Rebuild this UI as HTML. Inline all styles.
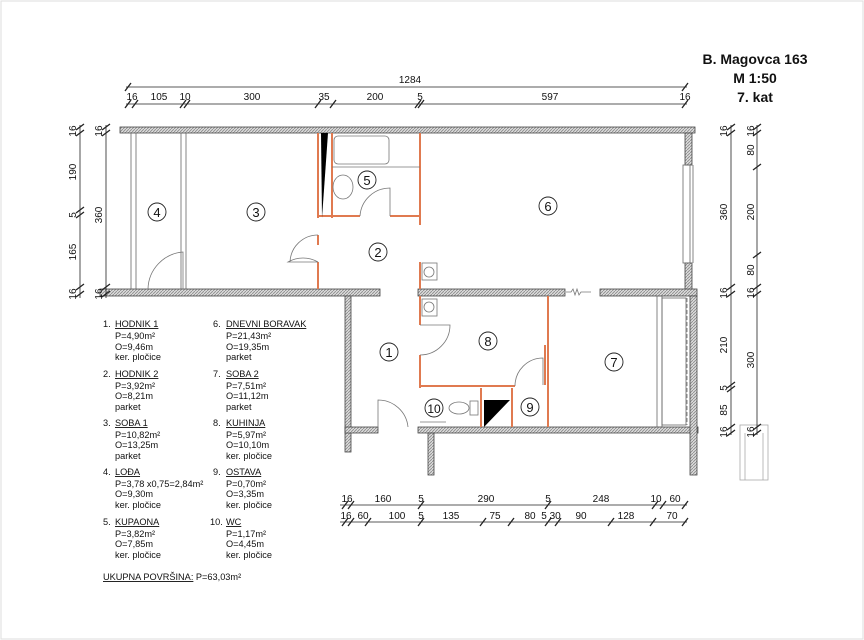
<!DOCTYPE html>
<html><head><meta charset="utf-8"><style>
html,body{margin:0;padding:0;background:#fff}
svg{display:block}
text{font-family:"Liberation Sans",sans-serif;fill:#111}
</style></head><body>
<svg width="864" height="640" viewBox="0 0 864 640" xmlns="http://www.w3.org/2000/svg">
<defs>
<pattern id="h" width="3" height="3" patternUnits="userSpaceOnUse"><rect width="3" height="3" fill="#dcdcdc"/><path d="M0 3L3 0" stroke="#888" stroke-width="0.8"/></pattern>
</defs>
<rect x="1" y="1" width="862" height="638" fill="none" stroke="#ddd"/>
<g font-weight="bold" font-size="14" text-anchor="middle">
<text x="755" y="64">B. Magovca 163</text>
<text x="755" y="83">M 1:50</text>
<text x="755" y="102">7. kat</text>
</g>
<g fill="url(#h)" stroke="#444" stroke-width="0.8">
<rect x="120" y="127" width="575" height="6"/>
<rect x="685" y="133" width="7" height="32"/>
<rect x="685" y="263" width="7" height="30"/>
<rect x="100" y="289" width="280" height="7"/>
<rect x="418" y="289" width="147" height="7"/>
<rect x="600" y="289" width="97" height="7"/>
<rect x="345" y="296" width="6" height="156"/>
<rect x="345" y="427" width="33" height="6"/>
<rect x="418" y="427" width="280" height="6"/>
<rect x="428" y="433" width="6" height="42"/>
<rect x="690" y="296" width="7" height="179"/>
</g>
<g fill="none" stroke="#666" stroke-width="0.8">
<rect x="131" y="133" width="5" height="156"/>
<rect x="181" y="133" width="5" height="156"/>
<rect x="683" y="165" width="7" height="98"/>
<line x1="693" y1="165" x2="693" y2="263"/>
<rect x="657" y="296" width="5" height="131"/>
<rect x="662" y="298" width="24" height="127"/>
<line x1="687" y1="298" x2="687" y2="425" stroke-dasharray="4 2"/>
<rect x="740" y="425" width="28" height="55" stroke="#aaa"/>
<line x1="745" y1="433" x2="745" y2="480" stroke="#aaa"/>
<line x1="763" y1="433" x2="763" y2="480" stroke="#aaa"/>
</g>
<g fill="none" stroke="#e07a50" stroke-width="2">
<path d="M318 133V218M332 133V218M420 133V225M318 216H360M390 216H420M318 235V245M318 262V289M420 262V289"/>
<path d="M420 296V325M420 355V388M420 386H515M548 296V427M481 388V427M512 388V427M545 345V385"/>
</g>
<g fill="none" stroke="#777" stroke-width="0.8">
<rect x="334" y="136" width="55" height="28" rx="4"/>
<path d="M332 167H420"/>
<ellipse cx="343" cy="187" rx="10" ry="12"/>
<rect x="422" y="263" width="15" height="17"/><circle cx="429" cy="272" r="5"/>
<rect x="422" y="299" width="15" height="17"/><circle cx="429" cy="307" r="5"/>
<path d="M360 216A30 30 0 0 1 390 188V216"/>
<path d="M318 262A30 30 0 0 0 288 262H318M318 235A28 28 0 0 0 290 262"/>
<path d="M420 325H450A30 30 0 0 1 420 355"/>
<path d="M515 386A28 28 0 0 1 543 358V385"/>
<path d="M378 427V400A30 30 0 0 1 408 427"/>
<path d="M148 289A38 38 0 0 1 183 252V289"/>
<path d="M420 422H446"/>
<ellipse cx="459" cy="408" rx="10" ry="6"/>
<rect x="470" y="401" width="8" height="14"/>
<path d="M566 292h5l2-3 2 6 2-6 2 6 2-3h10"/>
</g>
<path d="M321 133H328L322 218Z" fill="#000"/>
<path d="M484 427V400H510Z" fill="#000"/>
<g fill="none" stroke="#222" stroke-width="0.9">
<circle cx="157" cy="212" r="9"/><circle cx="256" cy="212" r="9"/><circle cx="367" cy="180" r="9"/>
<circle cx="378" cy="252" r="9"/><circle cx="548" cy="206" r="9"/><circle cx="389" cy="352" r="9"/>
<circle cx="488" cy="341" r="9"/><circle cx="614" cy="362" r="9"/><circle cx="434" cy="408" r="9"/>
<circle cx="530" cy="407" r="9"/>
</g>
<g font-size="13" text-anchor="middle">
<text x="157" y="217">4</text><text x="256" y="217">3</text><text x="367" y="185">5</text>
<text x="378" y="257">2</text><text x="548" y="211">6</text><text x="389" y="357">1</text>
<text x="488" y="346">8</text><text x="614" y="367">7</text><text x="434" y="413" font-size="12">10</text>
<text x="530" y="412">9</text>
</g>
<g stroke="#222" stroke-width="0.8">
<line x1="126" y1="87" x2="687" y2="87"/>
<line x1="126" y1="104" x2="687" y2="104"/>
<line x1="340" y1="505" x2="687" y2="505"/>
<line x1="340" y1="522" x2="687" y2="522"/>
<line x1="80" y1="125" x2="80" y2="298"/>
<line x1="106" y1="125" x2="106" y2="298"/>
<line x1="731" y1="125" x2="731" y2="435"/>
<line x1="757" y1="125" x2="757" y2="435"/>
<g stroke-width="1.3">
<path d="M125 91l6-8M682 91l6-8"/>
<path d="M125 108l6-8M132 108l6-8M180 108l6-8M184 108l6-8M315 108l6-8M330 108l6-8M415 108l6-8M418 108l6-8M682 108l6-8"/>
<path d="M342 509l6-8M348 509l6-8M418 509l6-8M545 509l6-8M652 509l6-8M660 509l6-8M682 509l6-8"/>
<path d="M342 526l6-8M348 526l6-8M365 526l6-8M418 526l6-8M480 526l6-8M508 526l6-8M545 526l6-8M555 526l6-8M608 526l6-8M650 526l6-8M682 526l6-8"/>
<path d="M76 130l8-6M76 136l8-6M76 213l8-6M76 218l8-6M76 290l8-6M76 297l8-6M102 130l8-6M102 136l8-6M102 290l8-6M102 297l8-6"/>
<path d="M727 130l8-6M727 136l8-6M727 290l8-6M727 297l8-6M727 388l8-6M727 392l8-6M727 430l8-6M727 436l8-6"/>
<path d="M753 130l8-6M753 136l8-6M753 170l8-6M753 258l8-6M753 290l8-6M753 297l8-6M753 430l8-6M753 436l8-6"/>
</g>
</g>
<g font-size="10" text-anchor="middle">
<text x="410" y="83">1284</text>
<text x="132" y="100">16</text><text x="159" y="100">105</text><text x="185" y="100">10</text><text x="252" y="100">300</text>
<text x="324" y="100">35</text><text x="375" y="100">200</text><text x="420" y="100">5</text><text x="550" y="100">597</text><text x="685" y="100">16</text>
<text x="347" y="502">16</text><text x="383" y="502">160</text><text x="421" y="502">5</text><text x="486" y="502">290</text>
<text x="548" y="502">5</text><text x="601" y="502">248</text><text x="656" y="502">10</text><text x="675" y="502">60</text>
<text x="346" y="519">16</text><text x="363" y="519">60</text><text x="397" y="519">100</text><text x="421" y="519">5</text>
<text x="451" y="519">135</text><text x="495" y="519">75</text><text x="530" y="519">80</text><text x="551" y="519">5 30</text>
<text x="581" y="519">90</text><text x="626" y="519">128</text><text x="672" y="519">70</text>
</g>
<g font-size="10" text-anchor="middle">
<text transform="translate(76,131) rotate(-90)">16</text>
<text transform="translate(76,172) rotate(-90)">190</text>
<text transform="translate(76,215) rotate(-90)">5</text>
<text transform="translate(76,252) rotate(-90)">165</text>
<text transform="translate(76,294) rotate(-90)">16</text>
<text transform="translate(102,131) rotate(-90)">16</text>
<text transform="translate(102,215) rotate(-90)">360</text>
<text transform="translate(102,294) rotate(-90)">16</text>
<text transform="translate(727,131) rotate(-90)">16</text>
<text transform="translate(727,212) rotate(-90)">360</text>
<text transform="translate(727,293) rotate(-90)">16</text>
<text transform="translate(727,345) rotate(-90)">210</text>
<text transform="translate(727,388) rotate(-90)">5</text>
<text transform="translate(727,410) rotate(-90)">85</text>
<text transform="translate(727,432) rotate(-90)">16</text>
<text transform="translate(754,131) rotate(-90)">16</text>
<text transform="translate(754,150) rotate(-90)">80</text>
<text transform="translate(754,212) rotate(-90)">200</text>
<text transform="translate(754,270) rotate(-90)">80</text>
<text transform="translate(754,293) rotate(-90)">16</text>
<text transform="translate(754,360) rotate(-90)">300</text>
<text transform="translate(754,432) rotate(-90)">16</text>
</g>
<g font-size="9.2">
<text x="103" y="327">1.</text><text x="115" y="327" text-decoration="underline">HODNIK 1</text><text x="115" y="339">P=4,90m²</text><text x="115" y="350">O=9,46m</text><text x="115" y="360">ker. pločice</text>
<text x="103" y="377">2.</text><text x="115" y="377" text-decoration="underline">HODNIK 2</text><text x="115" y="389">P=3,92m²</text><text x="115" y="399">O=8,21m</text><text x="115" y="410">parket</text>
<text x="103" y="426">3.</text><text x="115" y="426" text-decoration="underline">SOBA 1</text><text x="115" y="438">P=10,82m²</text><text x="115" y="448">O=13,25m</text><text x="115" y="459">parket</text>
<text x="103" y="475">4.</text><text x="115" y="475" text-decoration="underline">LOĐA</text><text x="115" y="487">P=3,78 x0,75=2,84m²</text><text x="115" y="497">O=9,30m</text><text x="115" y="508">ker. pločice</text>
<text x="103" y="525">5.</text><text x="115" y="525" text-decoration="underline">KUPAONA</text><text x="115" y="537">P=3,82m²</text><text x="115" y="547">O=7,85m</text><text x="115" y="558">ker. pločice</text>
<text x="213" y="327">6.</text><text x="226" y="327" text-decoration="underline">DNEVNI BORAVAK</text><text x="226" y="339">P=21,43m²</text><text x="226" y="350">O=19,35m</text><text x="226" y="360">parket</text>
<text x="213" y="377">7.</text><text x="226" y="377" text-decoration="underline">SOBA 2</text><text x="226" y="389">P=7,51m²</text><text x="226" y="399">O=11,12m</text><text x="226" y="410">parket</text>
<text x="213" y="426">8.</text><text x="226" y="426" text-decoration="underline">KUHINJA</text><text x="226" y="438">P=5,97m²</text><text x="226" y="448">O=10,10m</text><text x="226" y="459">ker. pločice</text>
<text x="213" y="475">9.</text><text x="226" y="475" text-decoration="underline">OSTAVA</text><text x="226" y="487">P=0,70m²</text><text x="226" y="497">O=3,35m</text><text x="226" y="508">ker. pločice</text>
<text x="210" y="525">10.</text><text x="226" y="525" text-decoration="underline">WC</text><text x="226" y="537">P=1,17m²</text><text x="226" y="547">O=4,45m</text><text x="226" y="558">ker. pločice</text>
<text x="103" y="580"><tspan text-decoration="underline">UKUPNA POVRŠINA:</tspan> P=63,03m²</text>
</g>
</svg>
</body></html>
